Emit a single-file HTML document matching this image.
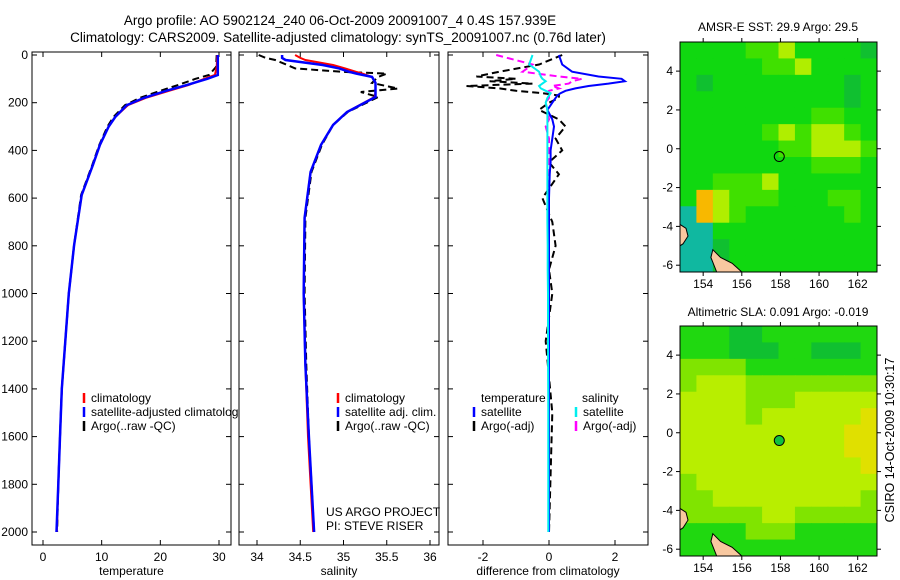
<!DOCTYPE html>
<html><head><meta charset="utf-8">
<style>
html,body{margin:0;padding:0;background:#fff;}
svg{display:block;font-family:"Liberation Sans",sans-serif;}
text{fill:#000;}
</style></head>
<body>
<svg id="fig" width="900" height="580" viewBox="0 0 900 580" xmlns="http://www.w3.org/2000/svg">
<text x="340" y="25" font-size="13.5" text-anchor="middle">Argo profile: AO 5902124_240 06-Oct-2009 20091007_4 0.4S 157.939E</text>
<text x="338" y="42" font-size="13.5" text-anchor="middle">Climatology: CARS2009. Satellite-adjusted climatology: synTS_20091007.nc (0.76d later)</text>
<text transform="translate(894,440) rotate(-90)" font-size="12.5" text-anchor="middle">CSIRO 14-Oct-2009 10:30:17</text>
</svg>
<script>
// ---- profile data ----
const depthT = [0,50,84,100,126,150,180,210,260,300,377,461,587,797,1000,1200,1400,1600,1800,2000];
const tempClim = [29.7,29.6,29.3,27.5,24.8,21.5,17.5,14.5,12.3,11.2,9.7,8.5,6.6,5.3,4.4,3.8,3.2,2.9,2.6,2.35];
const tempSat  = [29.8,29.8,29.8,28.0,24.5,21.0,17.2,14.3,12.3,11.2,9.7,8.5,6.6,5.3,4.4,3.8,3.2,2.9,2.6,2.3];
const tempArgo = [29.6,29.5,28.3,26.0,23.0,20.0,16.5,14.0,12.0,11.0,9.6,8.4,6.5,5.3,4.4,3.8,3.2,2.9,2.6,2.4];
const depthS = [0,12,21,42,56,71,78,92,117,141,155,176,239,293,377,490,683,1000,1300,1600,1800,2000];
const salClim = [34.44,34.5,34.56,34.88,35.02,35.15,35.22,35.33,35.37,35.37,35.37,35.36,35.04,34.88,34.74,34.62,34.55,34.54,34.56,34.59,34.62,34.65];
const salSat  = [34.29,34.29,34.33,34.76,34.95,35.07,35.15,35.33,35.37,35.37,35.37,35.37,35.04,34.88,34.74,34.62,34.55,34.54,34.56,34.6,34.63,34.66];
const salArgo = [34.02,34.1,34.21,34.35,34.44,35.0,35.5,35.4,35.33,35.63,35.2,35.4,35.05,34.88,34.75,34.63,34.56,34.55,34.57,34.6,34.63,34.66];
const depthD = [0,40,70,90,100,110,120,130,140,150,160,170,180,200,230,270,300,350,400,450,500,600,700,800,900,1000,1200,1500,2000];
const dTempSat  = [0.3,0.4,0.7,1.5,2.2,2.3,1.8,1.2,0.8,0.5,0.35,0.25,0.2,0.1,-0.05,0.1,0.15,0.1,0.05,0.05,0.02,0.0,0.0,0.0,0.0,0.0,0.0,0.0,0.0];
const dSalSat   = [-0.5,-0.6,-0.3,-0.25,-0.2,-0.1,-0.2,-0.3,-0.25,-0.1,0.05,0.0,-0.05,-0.1,-0.05,-0.05,-0.05,-0.05,-0.05,-0.05,-0.05,-0.05,-0.05,-0.04,-0.04,-0.03,-0.03,-0.02,-0.02];
const dTempArgo = [0.4,-0.3,-1.5,-2.2,-1.0,-1.8,-0.5,-2.5,-1.5,-1.0,-0.2,0.3,0.3,0.0,-0.3,0.3,0.5,0.2,0.4,0.0,0.3,-0.2,0.1,0.2,0.0,0.1,-0.1,0.1,0.0];
const dSalArgo  = [-1.6,-0.5,-0.8,0.3,1.0,0.7,0.6,0.1,0.3,0.0,-0.1,0.0,0.0,-0.1,-0.05,0.0,-0.1,0.0,0.0,0.0,-0.03,-0.02,-0.02,0.0,0.0,0.0,0.0,0.0,0.0];
// ---- map data ----
const sstGrid = ["222233422221","222223342222","212222222212","222222222212","222222223322","222223434432","222222334443","222222223332","223334222222","254333222332","054322222232","002222222222","001222222222","001222222222"];
const slaGrid = ["222112222222","222111221112","333322222222","344433333333","444433344444","444434444445","444444444455","444444444455","444444444445","344444444444","334444444443","333334433333","222233322222","222222222222"];
const floatPos = [157.94,-0.4];

const NS="http://www.w3.org/2000/svg";
const svg=document.getElementById('fig');
function mk(tag,attrs,parent){const e=document.createElementNS(NS,tag);for(const k in attrs)e.setAttribute(k,attrs[k]);(parent||svg).appendChild(e);return e;}
function lin(d0,d1,r0,r1){return v=>r0+(v-d0)*(r1-r0)/(d1-d0);}
const yDepth=lin(0,2000,55,532);
const TOP=52,BOT=545;

function panel(name,x0,x1,xs,xticks,xlabel,showY){
  const g=mk('g',{});
  
  
  const r=mk('rect',{x:x0,y:TOP,width:x1-x0,height:BOT-TOP,fill:'#fff',stroke:'#000','stroke-width':1},g);
  
  
  for(const t of xticks){
    const px=xs(t);
    mk('line',{x1:px,x2:px,y1:BOT,y2:BOT-5,stroke:'#000'},g);
    mk('line',{x1:px,x2:px,y1:TOP,y2:TOP+5,stroke:'#000'},g);
    const tx=mk('text',{x:px,y:BOT+16,'font-size':12,'text-anchor':'middle'},g);
    tx.textContent=t;
    
    
  }
  for(let d=0;d<=2000;d+=200){
    const py=yDepth(d);
    mk('line',{x1:x0,x2:x0+5,y1:py,y2:py,stroke:'#000'},g);
    mk('line',{x1:x1,x2:x1-5,y1:py,y2:py,stroke:'#000'},g);
    if(showY){const tx=mk('text',{x:x0-4,y:py+4,'font-size':12,'text-anchor':'end'},g);tx.textContent=d;
      
      }
  }
  const xl=mk('text',{x:(x0+x1)/2,y:575,'font-size':12,'text-anchor':'middle'},g);
  xl.textContent=xlabel;
  
  
  return g;
}
function line(g,name,xs,vals,depths,color,w,dash){
  const pts=vals.map((v,i)=>xs(v).toFixed(1)+','+yDepth(depths[i]).toFixed(1)).join(' ');
  const p=mk('polyline',{points:pts,fill:'none',stroke:color,'stroke-width':w},g);
  if(dash)p.setAttribute('stroke-dasharray',dash);
  
  
}
function legend(g,x,y,items){
  items.forEach((it,i)=>{
    const yy=y+i*14;
    mk('line',{x1:x,x2:x,y1:yy-9,y2:yy+1,stroke:it[1],'stroke-width':2.5},g);
    const t=mk('text',{x:x+7,y:yy,'font-size':12},g);t.textContent=it[0];
    
    
  });
}
// panel 1
const xT=lin(0,30,43,219);
const g1=panel('temperature-panel',32,231,xT,[0,10,20,30],'temperature',true);
line(g1,'temp-argo-line',xT,tempArgo,depthT,'#000',2,'7,4');
line(g1,'temp-climatology-line',xT,tempClim,depthT,'#f00',2);
line(g1,'temp-satellite-line',xT,tempSat,depthT,'#00f',2.5);
legend(g1,84,402,[['climatology','#f00'],['satellite-adjusted climatology','#00f'],['Argo(..raw -QC)','#000']]);
// panel 2
const xS=lin(34,36,257,430);
const g2=panel('salinity-panel',239,439,xS,[34,34.5,35,35.5,36],'salinity',false);
line(g2,'sal-argo-line',xS,salArgo,depthS,'#000',2,'7,4');
line(g2,'sal-climatology-line',xS,salClim,depthS,'#f00',2);
line(g2,'sal-satellite-line',xS,salSat,depthS,'#00f',2.5);
legend(g2,338,402,[['climatology','#f00'],['satellite adj. clim.','#00f'],['Argo(..raw -QC)','#000']]);
const u1=mk('text',{x:326,y:516,'font-size':12},g2);u1.textContent='US ARGO PROJECT';


const u2=mk('text',{x:326,y:530,'font-size':12},g2);u2.textContent='PI: STEVE RISER';


// panel 3
const xD=lin(-2,2,483,615);
const g3=panel('difference-panel',448,648,xD,[-2,0,2],'difference from climatology',false);
line(g3,'diff-temp-argo-line',xD,dTempArgo,depthD,'#000',2,'7,4');
line(g3,'diff-sal-argo-line',xD,dSalArgo,depthD,'#f0f',2,'7,4');
line(g3,'diff-temp-satellite-line',xD,dTempSat,depthD,'#00f',2);
line(g3,'diff-sal-satellite-line',xD,dSalSat,depthD,'#0ee',2);
const h1=mk('text',{x:481,y:402,'font-size':12},g3);h1.textContent='temperature';


const h2=mk('text',{x:582,y:402,'font-size':12},g3);h2.textContent='salinity';


legend(g3,474,416,[['satellite','#00f'],['Argo(-adj)','#000']]);
legend(g3,576,416,[['satellite','#0ee'],['Argo(-adj)','#f0f']]);

// maps
function map(name,title,grid,pal,top,bot,titleY,markerFill){
  const g=mk('g',{});
  
  
  const L=680,R=877;
  const xL=lin(152.8,163.0,L,R), yL=lin(5.5,-6.35,top,bot);
  const rows=grid.length, cols=grid[0].length;
  const cw=(R-L)/cols, ch=(bot-top)/rows;
  grid.forEach((row,ri)=>{for(let ci=0;ci<cols;ci++){
    const c=mk('rect',{x:L+ci*cw,y:top+ri*ch,width:cw+0.5,height:ch+0.5,fill:pal[row[ci]]},g);
    
    
  }});
  const land1=mk('path',{d:`M${L} ${yL(-3.9)} L${L+6} ${yL(-4.1)} L${L+8} ${yL(-4.5)} L${L+3} ${yL(-4.9)} L${L} ${yL(-5)} Z`,fill:'#f8c8a0',stroke:'#000','stroke-width':1},g);
  
  
  const land2=mk('path',{d:`M${xL(154.5)} ${yL(-5.2)} L${xL(154.9)} ${yL(-5.6)} L${xL(155.5)} ${yL(-5.9)} L${xL(156)} ${yL(-6.35)} L${xL(154.7)} ${yL(-6.35)} L${xL(154.4)} ${yL(-5.6)} Z`,fill:'#f8c8a0',stroke:'#000','stroke-width':1},g);
  
  
  mk('rect',{x:L,y:top,width:R-L,height:bot-top,fill:'none',stroke:'#000'},g);
  for(let lo=154;lo<=162;lo+=2){const px=xL(lo);
    mk('line',{x1:px,x2:px,y1:bot,y2:bot+4,stroke:'#000'},g);
    mk('line',{x1:px,x2:px,y1:top,y2:top-4,stroke:'#000'},g);
    const t=mk('text',{x:px,y:bot+16,'font-size':12,'text-anchor':'middle'},g);t.textContent=lo;
    
    }
  for(let la=-6;la<=4;la+=2){const py=yL(la);
    mk('line',{x1:L,x2:L-4,y1:py,y2:py,stroke:'#000'},g);
    mk('line',{x1:R,x2:R+4,y1:py,y2:py,stroke:'#000'},g);
    const t=mk('text',{x:L-7,y:py+4,'font-size':12,'text-anchor':'end'},g);t.textContent=la;
    
    }
  const m=mk('circle',{cx:xL(floatPos[0]),cy:yL(floatPos[1]),r:5,fill:markerFill,stroke:'#000','stroke-width':1},g);
  
  
  const tt=mk('text',{x:778,y:titleY,'font-size':12,'text-anchor':'middle'},g);tt.textContent=title;
  
  
}
map('sst-map','AMSR-E SST: 29.9 Argo: 29.5',sstGrid,{'0':'#10b8a0','1':'#10c030','2':'#10d810','3':'#40e000','4':'#b0ee00','5':'#f8b800'},42,272,31,'none');
map('sla-map','Altimetric SLA: 0.091 Argo: -0.019',slaGrid,{'1':'#10c030','2':'#20d810','3':'#80e400','4':'#b8ee00','5':'#e0e000'},326,556,316,'#10c040');
</script>
</body></html>
